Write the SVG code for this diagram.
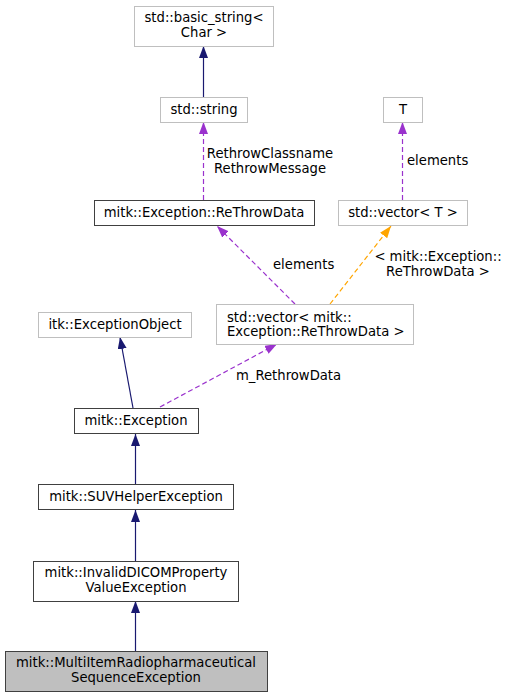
<svg xmlns="http://www.w3.org/2000/svg" width="507" height="697" viewBox="0 0 507 697">
<style>
text{font-family:"DejaVu Sans","Liberation Sans",sans-serif;font-size:13.2px;fill:#000}
.ext{fill:#fff;stroke:#bfbfbf;stroke-width:1}
.doc{fill:#fff;stroke:#404040;stroke-width:1}
.cur{fill:#bfbfbf;stroke:#404040;stroke-width:1}
.inh{stroke:#191970;stroke-width:1.2;fill:none}
.use{stroke:#9a32cd;stroke-width:1.2;fill:none;stroke-dasharray:5,3}
.tpl{stroke:#ffa500;stroke-width:1.2;fill:none;stroke-dasharray:5,3}
</style>
<defs>
<marker id="aInh" markerUnits="userSpaceOnUse" markerWidth="14" markerHeight="10" refX="12" refY="4.5" orient="auto"><path d="M0,0 L12,4.5 L0,9 Z" fill="#191970"/></marker>
<marker id="aUse" markerUnits="userSpaceOnUse" markerWidth="14" markerHeight="10" refX="12" refY="4.5" orient="auto"><path d="M0,0 L12,4.5 L0,9 Z" fill="#9a32cd"/></marker>
<marker id="aTpl" markerUnits="userSpaceOnUse" markerWidth="14" markerHeight="10" refX="12" refY="4.5" orient="auto"><path d="M0,0 L12,4.5 L0,9 Z" fill="#ffa500"/></marker>
</defs>
<g id="edges">
<line class="inh" x1="203.5" y1="97" x2="203.5" y2="46" marker-end="url(#aInh)"/>
<line class="use" x1="203.5" y1="200" x2="203.5" y2="122" marker-end="url(#aUse)"/>
<text x="270" y="158" text-anchor="middle">RethrowClassname</text>
<text x="270" y="173" text-anchor="middle">RethrowMessage</text>
<line class="use" x1="402.5" y1="200" x2="402.5" y2="122" marker-end="url(#aUse)"/>
<text x="407" y="165">elements</text>
<line class="use" x1="295" y1="304" x2="217" y2="226" marker-end="url(#aUse)"/>
<text x="273" y="269">elements</text>
<line class="tpl" x1="330" y1="304" x2="391" y2="226" marker-end="url(#aTpl)"/>
<text x="438" y="261" text-anchor="middle">&lt; mitk::Exception::</text>
<text x="438" y="276" text-anchor="middle">ReThrowData &gt;</text>
<line class="inh" x1="133" y1="408" x2="120" y2="337" marker-end="url(#aInh)"/>
<line class="use" x1="160" y1="407" x2="277" y2="344" marker-end="url(#aUse)"/>
<text x="236" y="380">m_RethrowData</text>
<line class="inh" x1="135.5" y1="484" x2="135.5" y2="434" marker-end="url(#aInh)"/>
<line class="inh" x1="135.5" y1="561" x2="135.5" y2="510" marker-end="url(#aInh)"/>
<line class="inh" x1="135.5" y1="651" x2="135.5" y2="601" marker-end="url(#aInh)"/>
</g>
<g id="node_basic_string">
<rect class="ext" x="134.5" y="6.5" width="139" height="40"/>
<text x="204" y="22" text-anchor="middle">std::basic_string&lt;</text>
<text x="204" y="37" text-anchor="middle">Char &gt;</text>
</g>
<g id="node_string">
<rect class="ext" x="160.5" y="97.5" width="87" height="25"/>
<text x="204" y="114" text-anchor="middle">std::string</text>
</g>
<g id="node_T">
<rect class="ext" x="383.5" y="97.5" width="39" height="25"/>
<text x="403" y="114" text-anchor="middle">T</text>
</g>
<g id="node_rethrowdata">
<rect class="doc" x="94.5" y="200.5" width="220" height="25"/>
<text x="204" y="217" text-anchor="middle">mitk::Exception::ReThrowData</text>
</g>
<g id="node_vector_T">
<rect class="ext" x="338.5" y="200.5" width="129" height="25"/>
<text x="403" y="217" text-anchor="middle">std::vector&lt; T &gt;</text>
</g>
<g id="node_vector_rtd">
<rect class="ext" x="216.5" y="304.5" width="197" height="40"/>
<text x="227" y="322">std::vector&lt; mitk::</text>
<text x="227" y="336">Exception::ReThrowData &gt;</text>
</g>
<g id="node_itk">
<rect class="ext" x="38.5" y="312.5" width="153" height="25"/>
<text x="115" y="329" text-anchor="middle">itk::ExceptionObject</text>
</g>
<g id="node_exception">
<rect class="doc" x="74.5" y="408.5" width="124" height="25"/>
<text x="136" y="425" text-anchor="middle">mitk::Exception</text>
</g>
<g id="node_suv">
<rect class="doc" x="38.5" y="484.5" width="195" height="25"/>
<text x="136" y="501" text-anchor="middle">mitk::SUVHelperException</text>
</g>
<g id="node_invalid">
<rect class="doc" x="33.5" y="561.5" width="205" height="40"/>
<text x="136" y="577" text-anchor="middle">mitk::InvalidDICOMProperty</text>
<text x="136" y="592" text-anchor="middle">ValueException</text>
</g>
<g id="node_multi">
<rect class="cur" x="5.5" y="651.5" width="262" height="40"/>
<text x="136" y="667" text-anchor="middle">mitk::MultiItemRadiopharmaceutical</text>
<text x="136" y="682" text-anchor="middle">SequenceException</text>
</g>
</svg>
